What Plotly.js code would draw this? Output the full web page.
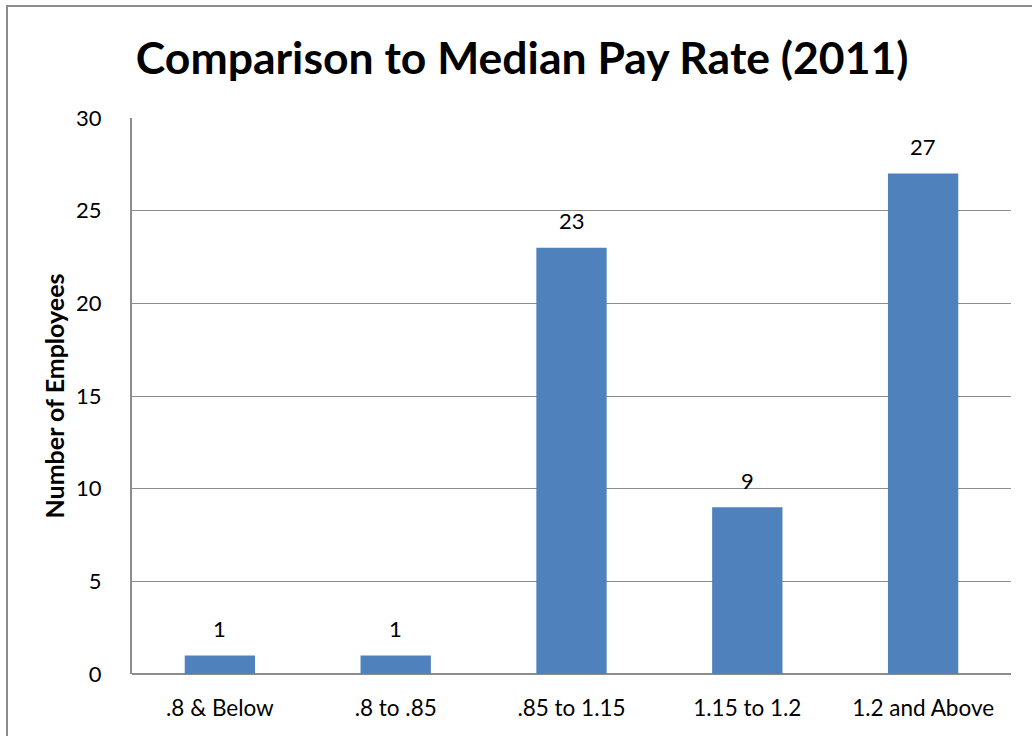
<!DOCTYPE html>
<html><head><meta charset="utf-8">
<script src="https://cdn.plot.ly/plotly-3.0.1.min.js"></script>
<style>
html,body{margin:0;padding:0;background:#fff;}
#frame{position:absolute;left:6px;top:5px;width:1040px;height:740px;border-left:2px solid #8c8c8c;border-top:2px solid #8c8c8c;box-sizing:border-box;}
#chart{position:absolute;left:0;top:0;width:1032px;height:736px;}
</style></head>
<body>
<div id="frame"></div>
<div id="chart"></div>
<script>
const categories = [".8 & Below", ".8 to .85", ".85 to 1.15", "1.15 to 1.2", "1.2 and Above"];
const employees = [1, 1, 23, 9, 27];
const yTicks = [0, 5, 10, 15, 20, 25, 30];

const FONT = 'Lato, sans-serif';
Plotly.newPlot('chart', [{
  type: 'bar',
  x: categories,
  y: employees,
  marker: {color: '#4F81BD'},
  hoverinfo: 'none'
}], {
  width: 1032, height: 736,
  paper_bgcolor: 'rgba(0,0,0,0)', plot_bgcolor: 'rgba(0,0,0,0)',
  margin: {l: 132, r: 21, t: 118, b: 62},
  bargap: 0.6,
  showlegend: false,
  title: {text: 'Comparison to Median Pay Rate (2011)', x: 0.506, xanchor: 'center', y: 0.921, yanchor: 'middle',
          font: {family: FONT, size: 44.5, color: '#000', weight: 'bold'}},
  annotations: categories.map((c, i) => ({
    x: c, y: employees[i], xref: 'x', yref: 'y', text: String(employees[i]),
    showarrow: false, yanchor: 'middle', yshift: 27,
    font: {family: FONT, size: 22, color: '#000'}
  })),
  xaxis: {
    showgrid: false, showline: false, zeroline: false, ticks: '',
    ticklabelstandoff: 18,
    tickfont: {family: FONT, size: 22.5, color: '#000'}
  },
  yaxis: {
    range: [0, 30], tickvals: yTicks, ticktext: yTicks.map(String),
    showgrid: true, gridcolor: '#8c8c8c', gridwidth: 1,
    showline: true, linecolor: '#8c8c8c', linewidth: 2,
    zeroline: true, zerolinecolor: '#8c8c8c', zerolinewidth: 2,
    ticks: '', ticklabelstandoff: 24,
    tickfont: {family: FONT, size: 22, color: '#000'},
    title: {text: 'Number of Employees', standoff: 4, font: {family: FONT, size: 25, color: '#000', weight: 'bold'}}
  }
}, {displayModeBar: false, staticPlot: true});
</script>
</body></html>
